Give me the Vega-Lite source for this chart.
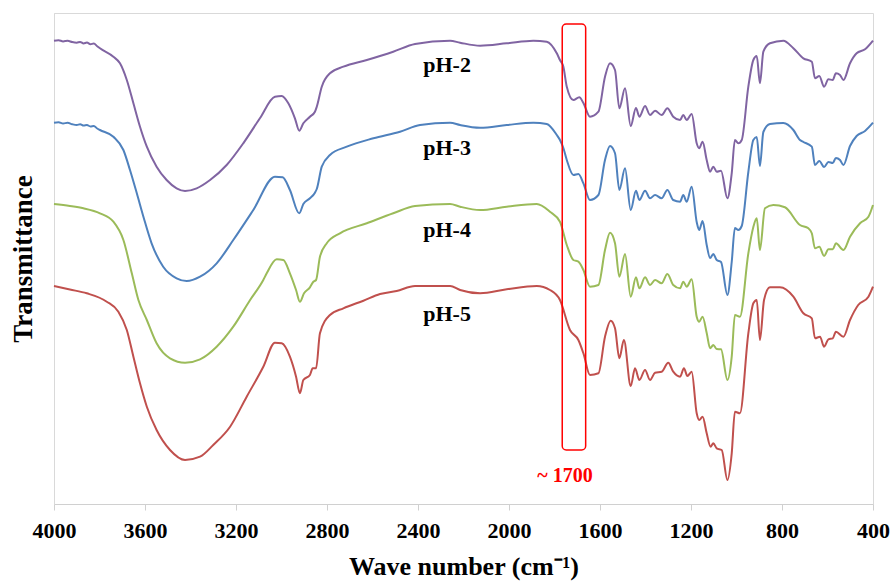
{
"$schema": "https://vega.github.io/schema/vega-lite/v6.json",
"autosize": "none",
"width": 819,
"height": 491,
"padding": {"left": 54, "top": 13, "right": 21, "bottom": 80},
"background": "white",
"config": {"font": "Liberation Serif", "view": {"stroke": "#d9d9d9", "strokeWidth": 1}},
"encoding": {
  "x": {"field": "w", "type": "quantitative",
    "scale": {"domain": [400, 4000], "reverse": true, "nice": false, "zero": false},
    "axis": {"values": [4000, 3600, 3200, 2800, 2400, 2000, 1600, 1200, 800, 400], "format": "d", "grid": false,
      "title": "Wave number (cm⁻¹)", "titleFont": "Liberation Serif", "titleFontSize": 26, "titleFontWeight": "bold", "titleColor": "black", "titlePadding": 12,
      "labelFont": "Liberation Serif", "labelFontSize": 22, "labelFontWeight": "bold", "labelColor": "black", "labelPadding": 10, "labelFlush": false, "labelOverlap": false,
      "domainColor": "#d0d0d0", "tickColor": "#d0d0d0", "tickSize": 6}},
  "y": {"field": "t", "type": "quantitative",
    "scale": {"domain": [0, 491], "nice": false, "zero": false},
    "axis": {"labels": false, "ticks": false, "grid": false, "title": "Transmittance", "titleFont": "Liberation Serif", "titleFontSize": 27, "titleFontWeight": "bold", "titleColor": "black", "titlePadding": 17, "domainColor": "#d9d9d9"}}
},
"layer": [
{
  "data": {"values": [
{"s":"pH-2","w":4000,"t":463.3},{"s":"pH-2","w":3980,"t":463.8},{"s":"pH-2","w":3960,"t":462.6},{"s":"pH-2","w":3940,"t":463.2},{"s":"pH-2","w":3920,"t":461.9},{"s":"pH-2","w":3900,"t":461.3},{"s":"pH-2","w":3885,"t":462.1},{"s":"pH-2","w":3870,"t":460.6},{"s":"pH-2","w":3855,"t":461.4},{"s":"pH-2","w":3840,"t":459.8},{"s":"pH-2","w":3825,"t":460.5},{"s":"pH-2","w":3810,"t":457.8},{"s":"pH-2","w":3798,"t":455.7},{"s":"pH-2","w":3739,"t":447.3},{"s":"pH-2","w":3710,"t":440.7},{"s":"pH-2","w":3680,"t":424},{"s":"pH-2","w":3651,"t":400.7},{"s":"pH-2","w":3622,"t":377.3},{"s":"pH-2","w":3592,"t":357.3},{"s":"pH-2","w":3549,"t":337.3},{"s":"pH-2","w":3505,"t":324},{"s":"pH-2","w":3461,"t":315.7},{"s":"pH-2","w":3424,"t":313},{"s":"pH-2","w":3373,"t":315.7},{"s":"pH-2","w":3314,"t":324},{"s":"pH-2","w":3241,"t":339},{"s":"pH-2","w":3168,"t":360.7},{"s":"pH-2","w":3095,"t":385.7},{"s":"pH-2","w":3029,"t":407.3},{"s":"pH-2","w":2999,"t":408},{"s":"pH-2","w":2970,"t":400.7},{"s":"pH-2","w":2941,"t":385.7},{"s":"pH-2","w":2922,"t":373.3},{"s":"pH-2","w":2904,"t":380.7},{"s":"pH-2","w":2875,"t":387.3},{"s":"pH-2","w":2853,"t":392.3},{"s":"pH-2","w":2845,"t":397.3},{"s":"pH-2","w":2823,"t":417.3},{"s":"pH-2","w":2787,"t":430.7},{"s":"pH-2","w":2728,"t":437.3},{"s":"pH-2","w":2625,"t":444},{"s":"pH-2","w":2509,"t":452.3},{"s":"pH-2","w":2413,"t":460},{"s":"pH-2","w":2259,"t":463.3},{"s":"pH-2","w":2215,"t":461.3},{"s":"pH-2","w":2127,"t":458.3},{"s":"pH-2","w":2010,"t":460.7},{"s":"pH-2","w":1893,"t":463.3},{"s":"pH-2","w":1834,"t":462.3},{"s":"pH-2","w":1790,"t":450.7},{"s":"pH-2","w":1776,"t":444},{"s":"pH-2","w":1761,"t":437.3},{"s":"pH-2","w":1746,"t":417.3},{"s":"pH-2","w":1717,"t":404},{"s":"pH-2","w":1691,"t":406.7},{"s":"pH-2","w":1673,"t":401},{"s":"pH-2","w":1644,"t":387.3},{"s":"pH-2","w":1607,"t":392.3},{"s":"pH-2","w":1578,"t":427.3},{"s":"pH-2","w":1556,"t":440.7},{"s":"pH-2","w":1534,"t":434},{"s":"pH-2","w":1515,"t":395.7},{"s":"pH-2","w":1490,"t":415.7},{"s":"pH-2","w":1465,"t":378},{"s":"pH-2","w":1442,"t":396},{"s":"pH-2","w":1427,"t":387.3},{"s":"pH-2","w":1402,"t":398},{"s":"pH-2","w":1380,"t":389},{"s":"pH-2","w":1358,"t":393.3},{"s":"pH-2","w":1329,"t":389},{"s":"pH-2","w":1304,"t":395.7},{"s":"pH-2","w":1278,"t":387.3},{"s":"pH-2","w":1248,"t":384},{"s":"pH-2","w":1234,"t":389},{"s":"pH-2","w":1219,"t":384},{"s":"pH-2","w":1197,"t":390},{"s":"pH-2","w":1175,"t":360.7},{"s":"pH-2","w":1164,"t":355.7},{"s":"pH-2","w":1149,"t":362.3},{"s":"pH-2","w":1131,"t":344},{"s":"pH-2","w":1116,"t":332.3},{"s":"pH-2","w":1102,"t":337.3},{"s":"pH-2","w":1087,"t":332.3},{"s":"pH-2","w":1068,"t":333.3},{"s":"pH-2","w":1040,"t":305.7},{"s":"pH-2","w":1021,"t":330.7},{"s":"pH-2","w":1007,"t":364},{"s":"pH-2","w":992,"t":360.7},{"s":"pH-2","w":977,"t":364},{"s":"pH-2","w":948,"t":417.3},{"s":"pH-2","w":926,"t":444},{"s":"pH-2","w":911,"t":448},{"s":"pH-2","w":897,"t":420.7},{"s":"pH-2","w":882,"t":452.3},{"s":"pH-2","w":853,"t":460.7},{"s":"pH-2","w":794,"t":463.3},{"s":"pH-2","w":750,"t":455.7},{"s":"pH-2","w":706,"t":445.7},{"s":"pH-2","w":669,"t":442.3},{"s":"pH-2","w":655,"t":425.7},{"s":"pH-2","w":636,"t":428},{"s":"pH-2","w":615,"t":417.3},{"s":"pH-2","w":596,"t":424.7},{"s":"pH-2","w":577,"t":424},{"s":"pH-2","w":563,"t":430.7},{"s":"pH-2","w":545,"t":429},{"s":"pH-2","w":530,"t":424},{"s":"pH-2","w":501,"t":440.7},{"s":"pH-2","w":472,"t":450.7},{"s":"pH-2","w":435,"t":454.7},{"s":"pH-2","w":400,"t":463.3},
{"s":"pH-3","w":4000,"t":381.3},{"s":"pH-3","w":3980,"t":381.8},{"s":"pH-3","w":3960,"t":380.5},{"s":"pH-3","w":3940,"t":381.2},{"s":"pH-3","w":3920,"t":379.8},{"s":"pH-3","w":3900,"t":379},{"s":"pH-3","w":3885,"t":379.8},{"s":"pH-3","w":3870,"t":378.4},{"s":"pH-3","w":3855,"t":378.9},{"s":"pH-3","w":3840,"t":377.6},{"s":"pH-3","w":3825,"t":378.1},{"s":"pH-3","w":3810,"t":375.5},{"s":"pH-3","w":3798,"t":374},{"s":"pH-3","w":3739,"t":367.3},{"s":"pH-3","w":3695,"t":354},{"s":"pH-3","w":3666,"t":334},{"s":"pH-3","w":3636,"t":310.7},{"s":"pH-3","w":3607,"t":287.3},{"s":"pH-3","w":3571,"t":260.7},{"s":"pH-3","w":3520,"t":237.3},{"s":"pH-3","w":3461,"t":225.7},{"s":"pH-3","w":3417,"t":223},{"s":"pH-3","w":3358,"t":227.3},{"s":"pH-3","w":3285,"t":240.7},{"s":"pH-3","w":3212,"t":264},{"s":"pH-3","w":3124,"t":294},{"s":"pH-3","w":3029,"t":327.3},{"s":"pH-3","w":2995,"t":326.7},{"s":"pH-3","w":2963,"t":314},{"s":"pH-3","w":2922,"t":290.7},{"s":"pH-3","w":2904,"t":300},{"s":"pH-3","w":2875,"t":305.7},{"s":"pH-3","w":2853,"t":311.3},{"s":"pH-3","w":2845,"t":315},{"s":"pH-3","w":2823,"t":337.3},{"s":"pH-3","w":2787,"t":349},{"s":"pH-3","w":2713,"t":357.3},{"s":"pH-3","w":2596,"t":365.7},{"s":"pH-3","w":2479,"t":372.3},{"s":"pH-3","w":2391,"t":379},{"s":"pH-3","w":2259,"t":381.3},{"s":"pH-3","w":2215,"t":379},{"s":"pH-3","w":2127,"t":376.3},{"s":"pH-3","w":2010,"t":379},{"s":"pH-3","w":1893,"t":381.3},{"s":"pH-3","w":1834,"t":380},{"s":"pH-3","w":1790,"t":369},{"s":"pH-3","w":1776,"t":364},{"s":"pH-3","w":1761,"t":356},{"s":"pH-3","w":1746,"t":344},{"s":"pH-3","w":1717,"t":329},{"s":"pH-3","w":1695,"t":330},{"s":"pH-3","w":1673,"t":320.7},{"s":"pH-3","w":1644,"t":304},{"s":"pH-3","w":1607,"t":309},{"s":"pH-3","w":1578,"t":344},{"s":"pH-3","w":1556,"t":358},{"s":"pH-3","w":1534,"t":350.7},{"s":"pH-3","w":1515,"t":314},{"s":"pH-3","w":1490,"t":335.7},{"s":"pH-3","w":1465,"t":294},{"s":"pH-3","w":1442,"t":313.3},{"s":"pH-3","w":1427,"t":304},{"s":"pH-3","w":1402,"t":313.3},{"s":"pH-3","w":1380,"t":305.7},{"s":"pH-3","w":1358,"t":309},{"s":"pH-3","w":1329,"t":305.7},{"s":"pH-3","w":1304,"t":314},{"s":"pH-3","w":1278,"t":304},{"s":"pH-3","w":1248,"t":302.3},{"s":"pH-3","w":1234,"t":309},{"s":"pH-3","w":1219,"t":302.3},{"s":"pH-3","w":1197,"t":317.3},{"s":"pH-3","w":1175,"t":282},{"s":"pH-3","w":1164,"t":274},{"s":"pH-3","w":1149,"t":283},{"s":"pH-3","w":1131,"t":259},{"s":"pH-3","w":1116,"t":246},{"s":"pH-3","w":1102,"t":250},{"s":"pH-3","w":1087,"t":244},{"s":"pH-3","w":1068,"t":242},{"s":"pH-3","w":1040,"t":209},{"s":"pH-3","w":1021,"t":242},{"s":"pH-3","w":1007,"t":276},{"s":"pH-3","w":992,"t":274},{"s":"pH-3","w":977,"t":278},{"s":"pH-3","w":948,"t":332},{"s":"pH-3","w":926,"t":364},{"s":"pH-3","w":911,"t":367},{"s":"pH-3","w":897,"t":338},{"s":"pH-3","w":882,"t":372},{"s":"pH-3","w":853,"t":380},{"s":"pH-3","w":794,"t":381},{"s":"pH-3","w":750,"t":374},{"s":"pH-3","w":721,"t":364},{"s":"pH-3","w":706,"t":362},{"s":"pH-3","w":669,"t":357.3},{"s":"pH-3","w":655,"t":339},{"s":"pH-3","w":636,"t":343},{"s":"pH-3","w":615,"t":337},{"s":"pH-3","w":596,"t":342},{"s":"pH-3","w":577,"t":341},{"s":"pH-3","w":563,"t":346},{"s":"pH-3","w":545,"t":344},{"s":"pH-3","w":530,"t":339},{"s":"pH-3","w":501,"t":358},{"s":"pH-3","w":472,"t":368},{"s":"pH-3","w":435,"t":373},{"s":"pH-3","w":400,"t":381.3},
{"s":"pH-4","w":4000,"t":300},{"s":"pH-4","w":3930,"t":298},{"s":"pH-4","w":3871,"t":295.7},{"s":"pH-4","w":3798,"t":290.7},{"s":"pH-4","w":3739,"t":282.3},{"s":"pH-4","w":3695,"t":264},{"s":"pH-4","w":3658,"t":230.7},{"s":"pH-4","w":3629,"t":204},{"s":"pH-4","w":3592,"t":184},{"s":"pH-4","w":3549,"t":160.7},{"s":"pH-4","w":3490,"t":145.7},{"s":"pH-4","w":3424,"t":141.3},{"s":"pH-4","w":3358,"t":144.7},{"s":"pH-4","w":3285,"t":157.3},{"s":"pH-4","w":3212,"t":177.3},{"s":"pH-4","w":3138,"t":204},{"s":"pH-4","w":3080,"t":224},{"s":"pH-4","w":3065,"t":230.7},{"s":"pH-4","w":3021,"t":244.7},{"s":"pH-4","w":2992,"t":244},{"s":"pH-4","w":2963,"t":230.7},{"s":"pH-4","w":2936,"t":214},{"s":"pH-4","w":2919,"t":202.3},{"s":"pH-4","w":2901,"t":210.7},{"s":"pH-4","w":2875,"t":216.7},{"s":"pH-4","w":2860,"t":222.3},{"s":"pH-4","w":2848,"t":224},{"s":"pH-4","w":2831,"t":247.3},{"s":"pH-4","w":2801,"t":260.7},{"s":"pH-4","w":2743,"t":270.7},{"s":"pH-4","w":2625,"t":280.7},{"s":"pH-4","w":2509,"t":290.7},{"s":"pH-4","w":2413,"t":298},{"s":"pH-4","w":2259,"t":300},{"s":"pH-4","w":2215,"t":297.3},{"s":"pH-4","w":2127,"t":294},{"s":"pH-4","w":2010,"t":297.3},{"s":"pH-4","w":1878,"t":300},{"s":"pH-4","w":1820,"t":292.3},{"s":"pH-4","w":1776,"t":282.3},{"s":"pH-4","w":1746,"t":259},{"s":"pH-4","w":1717,"t":244},{"s":"pH-4","w":1695,"t":242.3},{"s":"pH-4","w":1673,"t":234},{"s":"pH-4","w":1644,"t":217.3},{"s":"pH-4","w":1607,"t":219},{"s":"pH-4","w":1578,"t":254},{"s":"pH-4","w":1556,"t":271.3},{"s":"pH-4","w":1534,"t":260.7},{"s":"pH-4","w":1515,"t":227.3},{"s":"pH-4","w":1490,"t":250},{"s":"pH-4","w":1465,"t":207.3},{"s":"pH-4","w":1442,"t":226.7},{"s":"pH-4","w":1427,"t":215.7},{"s":"pH-4","w":1402,"t":226.7},{"s":"pH-4","w":1380,"t":219},{"s":"pH-4","w":1358,"t":224},{"s":"pH-4","w":1329,"t":220.7},{"s":"pH-4","w":1304,"t":230},{"s":"pH-4","w":1278,"t":219},{"s":"pH-4","w":1248,"t":215.7},{"s":"pH-4","w":1234,"t":222.3},{"s":"pH-4","w":1219,"t":217.3},{"s":"pH-4","w":1197,"t":224.7},{"s":"pH-4","w":1175,"t":187.3},{"s":"pH-4","w":1164,"t":182.3},{"s":"pH-4","w":1149,"t":187.3},{"s":"pH-4","w":1131,"t":171},{"s":"pH-4","w":1116,"t":155.7},{"s":"pH-4","w":1102,"t":159},{"s":"pH-4","w":1087,"t":155},{"s":"pH-4","w":1068,"t":154.7},{"s":"pH-4","w":1040,"t":124},{"s":"pH-4","w":1021,"t":147.3},{"s":"pH-4","w":1007,"t":189},{"s":"pH-4","w":985,"t":187.3},{"s":"pH-4","w":948,"t":250.7},{"s":"pH-4","w":926,"t":277},{"s":"pH-4","w":911,"t":285.7},{"s":"pH-4","w":897,"t":254},{"s":"pH-4","w":875,"t":295.7},{"s":"pH-4","w":838,"t":299},{"s":"pH-4","w":787,"t":296.7},{"s":"pH-4","w":721,"t":279},{"s":"pH-4","w":684,"t":275.7},{"s":"pH-4","w":669,"t":270.7},{"s":"pH-4","w":655,"t":255.7},{"s":"pH-4","w":636,"t":257.3},{"s":"pH-4","w":615,"t":248},{"s":"pH-4","w":596,"t":254.7},{"s":"pH-4","w":577,"t":254.7},{"s":"pH-4","w":563,"t":260.7},{"s":"pH-4","w":530,"t":254},{"s":"pH-4","w":501,"t":267.3},{"s":"pH-4","w":457,"t":280.7},{"s":"pH-4","w":420,"t":287.3},{"s":"pH-4","w":400,"t":299},
{"s":"pH-5","w":4000,"t":218},{"s":"pH-5","w":3930,"t":214.5},{"s":"pH-5","w":3856,"t":210.7},{"s":"pH-5","w":3768,"t":202.3},{"s":"pH-5","w":3717,"t":192.3},{"s":"pH-5","w":3680,"t":174},{"s":"pH-5","w":3651,"t":147.3},{"s":"pH-5","w":3622,"t":120.7},{"s":"pH-5","w":3592,"t":97.3},{"s":"pH-5","w":3549,"t":74},{"s":"pH-5","w":3490,"t":54},{"s":"pH-5","w":3424,"t":44},{"s":"pH-5","w":3358,"t":47.3},{"s":"pH-5","w":3300,"t":59},{"s":"pH-5","w":3226,"t":77.3},{"s":"pH-5","w":3153,"t":107.3},{"s":"pH-5","w":3080,"t":137.3},{"s":"pH-5","w":3029,"t":161.3},{"s":"pH-5","w":2999,"t":160.7},{"s":"pH-5","w":2963,"t":147.3},{"s":"pH-5","w":2936,"t":127.3},{"s":"pH-5","w":2919,"t":110.7},{"s":"pH-5","w":2904,"t":124},{"s":"pH-5","w":2875,"t":129},{"s":"pH-5","w":2863,"t":135.7},{"s":"pH-5","w":2848,"t":135.7},{"s":"pH-5","w":2831,"t":170.7},{"s":"pH-5","w":2787,"t":189},{"s":"pH-5","w":2728,"t":195.7},{"s":"pH-5","w":2640,"t":203.3},{"s":"pH-5","w":2567,"t":210},{"s":"pH-5","w":2494,"t":213},{"s":"pH-5","w":2413,"t":218},{"s":"pH-5","w":2259,"t":218},{"s":"pH-5","w":2215,"t":214},{"s":"pH-5","w":2127,"t":210.7},{"s":"pH-5","w":2010,"t":214.7},{"s":"pH-5","w":1878,"t":218},{"s":"pH-5","w":1820,"t":214},{"s":"pH-5","w":1776,"t":204},{"s":"pH-5","w":1732,"t":174},{"s":"pH-5","w":1695,"t":164},{"s":"pH-5","w":1673,"t":150.7},{"s":"pH-5","w":1644,"t":129},{"s":"pH-5","w":1607,"t":130.7},{"s":"pH-5","w":1578,"t":167.3},{"s":"pH-5","w":1553,"t":183.3},{"s":"pH-5","w":1534,"t":175.7},{"s":"pH-5","w":1515,"t":145.7},{"s":"pH-5","w":1495,"t":164},{"s":"pH-5","w":1465,"t":118},{"s":"pH-5","w":1446,"t":135.7},{"s":"pH-5","w":1427,"t":124},{"s":"pH-5","w":1402,"t":134},{"s":"pH-5","w":1380,"t":124},{"s":"pH-5","w":1358,"t":131.3},{"s":"pH-5","w":1329,"t":132.3},{"s":"pH-5","w":1300,"t":141.3},{"s":"pH-5","w":1278,"t":132.3},{"s":"pH-5","w":1248,"t":127.3},{"s":"pH-5","w":1231,"t":135.7},{"s":"pH-5","w":1216,"t":128},{"s":"pH-5","w":1197,"t":132.3},{"s":"pH-5","w":1175,"t":90.7},{"s":"pH-5","w":1164,"t":84},{"s":"pH-5","w":1149,"t":87.3},{"s":"pH-5","w":1131,"t":70.7},{"s":"pH-5","w":1114,"t":57.3},{"s":"pH-5","w":1102,"t":60.7},{"s":"pH-5","w":1087,"t":55.7},{"s":"pH-5","w":1065,"t":54},{"s":"pH-5","w":1040,"t":24},{"s":"pH-5","w":1021,"t":50.7},{"s":"pH-5","w":1007,"t":92.3},{"s":"pH-5","w":985,"t":90.7},{"s":"pH-5","w":948,"t":170.7},{"s":"pH-5","w":926,"t":200.7},{"s":"pH-5","w":911,"t":204},{"s":"pH-5","w":897,"t":164},{"s":"pH-5","w":879,"t":204},{"s":"pH-5","w":853,"t":216.7},{"s":"pH-5","w":809,"t":216.7},{"s":"pH-5","w":750,"t":207.3},{"s":"pH-5","w":706,"t":190.7},{"s":"pH-5","w":669,"t":185.7},{"s":"pH-5","w":655,"t":165.7},{"s":"pH-5","w":633,"t":167.3},{"s":"pH-5","w":615,"t":157.3},{"s":"pH-5","w":596,"t":164.7},{"s":"pH-5","w":577,"t":165.7},{"s":"pH-5","w":563,"t":172.3},{"s":"pH-5","w":530,"t":167.3},{"s":"pH-5","w":501,"t":184},{"s":"pH-5","w":465,"t":199},{"s":"pH-5","w":420,"t":207.3},{"s":"pH-5","w":400,"t":217.3}
  ]},
  "mark": {"type": "line", "interpolate": "monotone", "strokeWidth": 2},
  "encoding": {
    "color": {"field": "s", "type": "nominal", "legend": null,
      "scale": {"domain": ["pH-2", "pH-3", "pH-4", "pH-5"], "range": ["#8064A2", "#4F81BD", "#9BBB59", "#C0504D"]}}
  }
},
{
  "data": {"values": [{"w": 1766, "w2": 1663, "t": 480, "t2": 54}]},
  "mark": {"type": "rect", "filled": false, "stroke": "#FF0000", "strokeWidth": 1.5, "cornerRadius": 4},
  "encoding": {"x2": {"field": "w2"}, "y2": {"field": "t2"}}
},
{
  "data": {"values": [
    {"w": 2377, "t": 432, "label": "pH-2"},
    {"w": 2377, "t": 349, "label": "pH-3"},
    {"w": 2377, "t": 267, "label": "pH-4"},
    {"w": 2377, "t": 183, "label": "pH-5"}
  ]},
  "mark": {"type": "text", "align": "left", "baseline": "alphabetic", "font": "Liberation Serif", "fontSize": 22, "fontWeight": "bold", "color": "black"},
  "encoding": {"text": {"field": "label"}}
},
{
  "data": {"values": [{"w": 1754, "t": 22, "label": "~ 1700"}]},
  "mark": {"type": "text", "align": "center", "baseline": "alphabetic", "font": "Liberation Serif", "fontSize": 20, "fontWeight": "bold", "color": "#FF0000"},
  "encoding": {"text": {"field": "label"}}
}
]
}
